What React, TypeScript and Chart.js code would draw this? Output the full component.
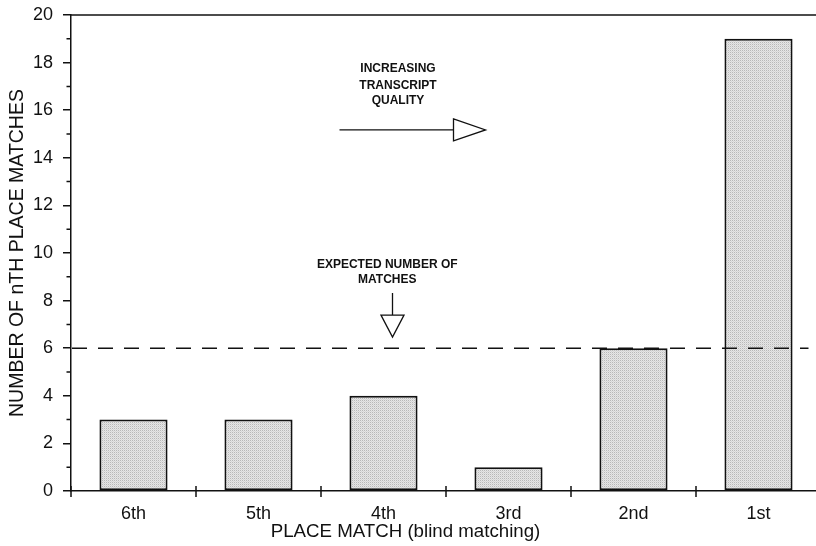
import React, { useEffect, useRef } from 'react';
import { Chart, registerables } from 'chart.js';

Chart.register(...registerables);

// ---- data ----
const categories = ['6th', '5th', '4th', '3rd', '2nd', '1st'];
const matches = [3, 3, 4, 1, 6, 19];
const expectedMatches = 6;
const yMin = 0;
const yMax = 20;
const yStep = 2;
const yTitle = 'NUMBER OF nTH PLACE MATCHES';
const xTitle = 'PLACE MATCH (blind matching)';
const qualityNote = ['INCREASING', 'TRANSCRIPT', 'QUALITY'];
const expectedNote = ['EXPECTED NUMBER OF', 'MATCHES'];

const FONT = '"Liberation Sans", Arial, Helvetica, sans-serif';

function makePattern(): CanvasPattern | string {
  const c = document.createElement('canvas');
  c.width = 2;
  c.height = 2;
  const g = c.getContext('2d');
  if (!g) return '#d6d6d6';
  g.fillStyle = '#e6e6e6';
  g.fillRect(0, 0, 2, 2);
  g.fillStyle = '#b8b8b8';
  g.fillRect(0, 0, 1, 1);
  g.fillStyle = '#d6d6d6';
  g.fillRect(1, 1, 1, 1);
  const p = g.createPattern(c, 'repeat');
  return p || '#d6d6d6';
}

const overlay = {
  id: 'overlay',
  afterDatasetsDraw(chart: any) {
    const { ctx, chartArea, scales } = chart;
    const x = scales.x;
    const y = scales.y;
    ctx.save();
    ctx.strokeStyle = '#111';
    ctx.fillStyle = '#111';
    ctx.lineWidth = 1.5;

    // top frame line
    ctx.beginPath();
    ctx.moveTo(chartArea.left, chartArea.top);
    ctx.lineTo(chartArea.right, chartArea.top);
    ctx.stroke();

    // minor y ticks
    ctx.beginPath();
    for (let v = yMin + 1; v < yMax; v += yStep) {
      const py = y.getPixelForValue(v);
      ctx.moveTo(chartArea.left - 4.5, py);
      ctx.lineTo(chartArea.left, py);
    }
    ctx.stroke();

    // category boundary ticks on x axis
    ctx.beginPath();
    for (let i = 0; i < categories.length; i++) {
      const px = x.getPixelForValue(i - 0.5);
      ctx.moveTo(px, chartArea.bottom - 5);
      ctx.lineTo(px, chartArea.bottom + 6);
    }
    ctx.stroke();

    // expected line
    const ey = y.getPixelForValue(expectedMatches);
    ctx.setLineDash([15, 11]);
    ctx.beginPath();
    ctx.moveTo(chartArea.left + 1, ey);
    ctx.lineTo(x.getPixelForValue(5.4), ey);
    ctx.stroke();
    ctx.setLineDash([]);

    // annotations text
    ctx.font = `bold 12px ${FONT}`;
    ctx.textAlign = 'center';
    ctx.textBaseline = 'middle';
    const qx = x.getPixelForValue(2.116);
    const qy = [17.73, 17.04, 16.39];
    qualityNote.forEach((t, i) => ctx.fillText(t, qx, y.getPixelForValue(qy[i])));
    const ex = x.getPixelForValue(2.03);
    const eyy = [9.5, 8.87];
    expectedNote.forEach((t, i) => ctx.fillText(t, ex, y.getPixelForValue(eyy[i])));

    // horizontal arrow
    ctx.lineWidth = 1.3;
    const ay = y.getPixelForValue(15.17);
    const ax0 = x.getPixelForValue(1.648);
    const ax1 = x.getPixelForValue(2.56);
    const axTip = x.getPixelForValue(2.816);
    ctx.beginPath();
    ctx.moveTo(ax0, ay);
    ctx.lineTo(ax1, ay);
    ctx.stroke();
    ctx.beginPath();
    ctx.moveTo(ax1, ay - 11);
    ctx.lineTo(axTip, ay);
    ctx.lineTo(ax1, ay + 11);
    ctx.closePath();
    ctx.fillStyle = '#fff';
    ctx.fill();
    ctx.stroke();

    // vertical arrow
    const vx = x.getPixelForValue(2.072);
    const vy0 = y.getPixelForValue(8.32);
    const vy1 = y.getPixelForValue(7.39);
    const vTip = y.getPixelForValue(6.47);
    ctx.beginPath();
    ctx.moveTo(vx, vy0);
    ctx.lineTo(vx, vy1);
    ctx.stroke();
    ctx.beginPath();
    ctx.moveTo(vx - 11.5, vy1);
    ctx.lineTo(vx, vTip);
    ctx.lineTo(vx + 11.5, vy1);
    ctx.closePath();
    ctx.fill();
    ctx.stroke();

    // x axis title
    ctx.fillStyle = '#111';
    ctx.font = `18.7px ${FONT}`;
    ctx.textAlign = 'center';
    ctx.textBaseline = 'middle';
    ctx.fillText(xTitle, x.getPixelForValue(2.176), chartArea.bottom + 41);

    ctx.restore();
  },
};

export default function App() {
  const ref = useRef<HTMLCanvasElement>(null);

  useEffect(() => {
    const canvas = ref.current;
    if (!canvas) return;
    const fill = makePattern();
    const chart = new Chart(canvas, {
      type: 'bar',
      data: {
        labels: categories,
        datasets: [
          {
            data: matches,
            backgroundColor: fill as any,
            borderColor: '#111',
            borderWidth: 2,
            borderSkipped: false,
            categoryPercentage: 1,
            barPercentage: 0.545,
          },
        ],
      },
      options: {
        responsive: false,
        animation: false,
        devicePixelRatio: 1,
        layout: { padding: { left: 0, right: 19, top: 15, bottom: 0 } },
        plugins: {
          legend: { display: false },
          tooltip: { enabled: false },
        },
        scales: {
          x: {
            type: 'category',
            offset: true,
            grid: { display: false, drawTicks: false },
            border: { display: true, color: '#111', width: 1.5 },
            ticks: {
              color: '#111',
              padding: 12,
              font: { family: FONT, size: 18 },
              maxRotation: 0,
            },
            afterFit: (s: any) => {
              s.height = 55;
              s.paddingLeft = 0;
              s.paddingRight = 0;
            },
          },
          y: {
            min: yMin,
            max: yMax,
            ticks: {
              stepSize: yStep,
              color: '#111',
              padding: 10,
              font: { family: FONT, size: 18 },
            },
            grid: {
              drawOnChartArea: false,
              drawTicks: true,
              tickLength: 8,
              color: '#111',
              lineWidth: 1.5,
            },
            border: { display: true, color: '#111', width: 1.5 },
            title: {
              display: true,
              text: yTitle,
              color: '#111',
              font: { family: FONT, size: 19.5 },
              padding: { top: 6, bottom: 0 },
            },
            afterFit: (s: any) => {
              s.width = 71;
              s.paddingTop = 0;
              s.paddingBottom = 0;
            },
          },
        },
      },
      plugins: [overlay],
    });
    return () => chart.destroy();
  }, []);

  return (
    <div
      style={{
        position: 'fixed',
        left: 0,
        top: 0,
        width: 816,
        height: 546,
        overflow: 'hidden',
        background: '#fff',
      }}
    >
      <canvas ref={ref} width={840} height={546} style={{ display: 'block', width: 840, height: 546 }} />
    </div>
  );
}
